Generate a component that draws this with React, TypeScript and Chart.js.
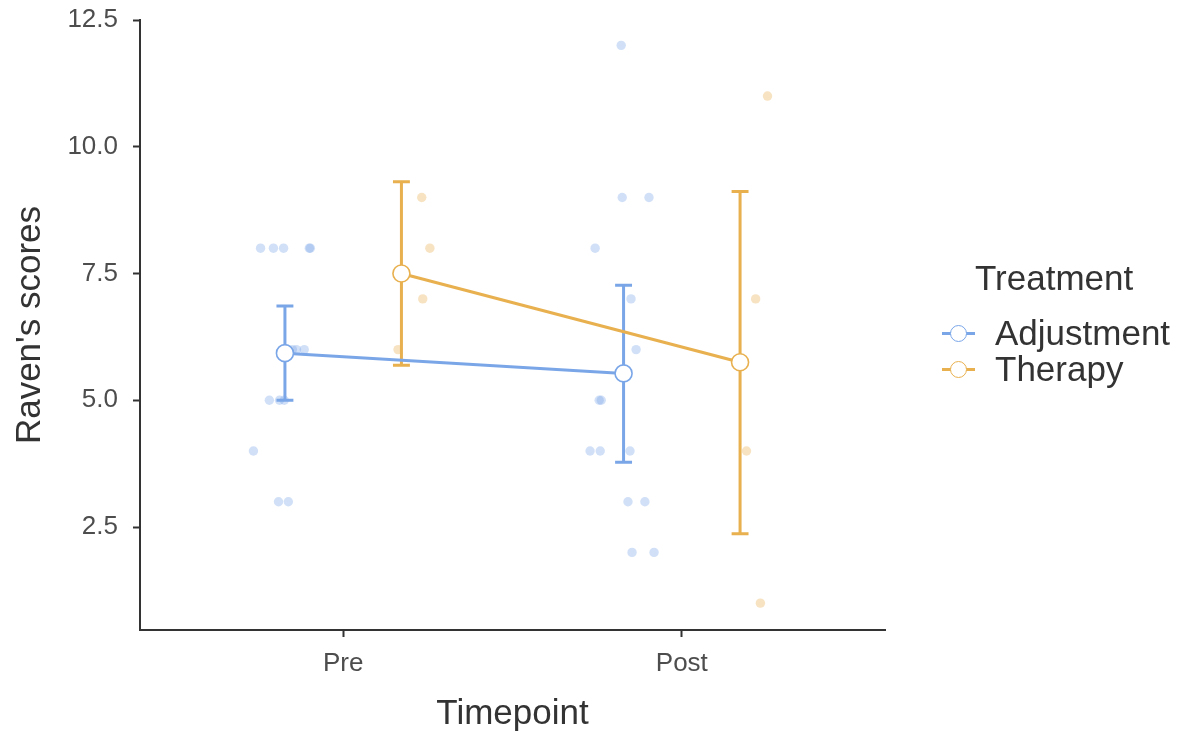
import React, { useEffect, useRef } from "react";
import { Chart, registerables } from "chart.js";

Chart.register(...registerables);

// ---- data ----
const categories = ["Pre", "Post"];
const groups = ["Adjustment", "Therapy"];
const yTicks = [2.5, 5, 7.5, 10, 12.5];
const yTickLabels = ["2.5", "5.0", "7.5", "10.0", "12.5"];

// group means and error-bar limits per timepoint
const adjMean = [5.93, 5.53];
const adjLow = [5.0, 3.78];
const adjHigh = [6.86, 7.27];
const therMean = [7.5, 5.75];
const therLow = [5.69, 2.37];
const therHigh = [9.31, 9.12];

// raw (jittered) observations: x position on the timepoint axis, y score
const adjX = [
  0.756, 0.794, 0.824, 0.9, 0.903, 0.85, 0.862, 0.885, 0.782, 0.812, 0.826, 0.735, 0.809, 0.838,
  1.821, 1.824, 1.903, 1.744, 1.85, 1.865, 1.756, 1.762, 1.729, 1.759, 1.847, 1.841, 1.891, 1.853, 1.918,
];
const adjY = [
  8, 8, 8, 8, 8, 6, 6, 6, 5, 5, 5, 4, 3, 3,
  12, 9, 9, 8, 7, 6, 5, 5, 4, 4, 4, 3, 3, 2, 2,
];
const therX = [1.232, 1.256, 1.235, 1.162, 2.253, 2.218, 2.191, 2.232];
const therY = [9, 8, 7, 6, 11, 7, 4, 1];

const DODGE = 0.172;
const CAP = 0.025;

const BLUE = "#7AA6E8";
const ORANGE = "#E8B04F";
const BLUE_PT = "rgba(122,166,232,0.35)";
const ORANGE_PT = "rgba(232,176,79,0.35)";
const FONT = "'Liberation Sans', Arial, Helvetica, sans-serif";

const adjMeanX = categories.map((_, i) => i + 1 - DODGE);
const therMeanX = categories.map((_, i) => i + 1 + DODGE);

const errorBarPlugin = {
  id: "errorBars",
  beforeDatasetDraw(chart: any, args: any) {
    if (args.index !== 1) return;
    const ctx = chart.ctx;
    const xs = chart.scales.x;
    const ys = chart.scales.y;
    const sets = [
      { x: adjMeanX, lo: adjLow, hi: adjHigh, c: BLUE },
      { x: therMeanX, lo: therLow, hi: therHigh, c: ORANGE },
    ];
    ctx.save();
    ctx.lineWidth = 3;
    ctx.lineCap = "butt";
    for (const s of sets) {
      ctx.strokeStyle = s.c;
      s.x.forEach((xv, i) => {
        const px = xs.getPixelForValue(xv);
        const pl = xs.getPixelForValue(xv - CAP);
        const pr = xs.getPixelForValue(xv + CAP);
        const top = ys.getPixelForValue(s.hi[i]);
        const bot = ys.getPixelForValue(s.lo[i]);
        ctx.beginPath();
        ctx.moveTo(px, top);
        ctx.lineTo(px, bot);
        ctx.moveTo(pl, top);
        ctx.lineTo(pr, top);
        ctx.moveTo(pl, bot);
        ctx.lineTo(pr, bot);
        ctx.stroke();
      });
    }
    ctx.restore();
  },
};

function LegendKey({ color }: { color: string }) {
  return (
    <div style={{ position: "relative", width: 33, height: 34 }}>
      <div
        style={{
          position: "absolute",
          left: 0,
          top: 15.5,
          width: 33,
          height: 3,
          background: color,
        }}
      />
      <div
        style={{
          position: "absolute",
          left: 8,
          top: 8.5,
          width: 17,
          height: 17,
          boxSizing: "border-box",
          borderRadius: "50%",
          border: `1.8px solid ${color}`,
          background: "#fff",
        }}
      />
    </div>
  );
}

export default function App() {
  const ref = useRef<HTMLCanvasElement | null>(null);

  useEffect(() => {
    if (!ref.current) return;
    const chart = new Chart(ref.current, {
      type: "scatter",
      data: {
        datasets: [
          {
            type: "line",
            label: groups[0],
            data: adjMeanX.map((x, i) => ({ x, y: adjMean[i] })),
            borderColor: BLUE,
            borderWidth: 3,
            pointRadius: 8.5,
            pointBackgroundColor: "#ffffff",
            pointBorderColor: BLUE,
            pointBorderWidth: 1.6,
            showLine: true,
            order: 0,
          } as any,
          {
            type: "line",
            label: groups[1],
            data: therMeanX.map((x, i) => ({ x, y: therMean[i] })),
            borderColor: ORANGE,
            borderWidth: 3,
            pointRadius: 8.5,
            pointBackgroundColor: "#ffffff",
            pointBorderColor: ORANGE,
            pointBorderWidth: 1.6,
            showLine: true,
            order: 1,
          } as any,
          {
            label: groups[0] + " obs",
            data: adjX.map((x, i) => ({ x, y: adjY[i] })),
            backgroundColor: BLUE_PT,
            borderWidth: 0,
            pointRadius: 4.7,
            order: 2,
          },
          {
            label: groups[1] + " obs",
            data: therX.map((x, i) => ({ x, y: therY[i] })),
            backgroundColor: ORANGE_PT,
            borderWidth: 0,
            pointRadius: 4.7,
            order: 3,
          },
        ],
      },
      options: {
        animation: false,
        responsive: false,
        devicePixelRatio: 1,
        layout: { padding: { left: 0, right: 296, top: 20, bottom: 0 } },
        plugins: {
          legend: { display: false },
          tooltip: { enabled: false },
        },
        scales: {
          x: {
            type: "linear",
            min: 0.4,
            max: 2.6,
            afterBuildTicks: (axis: any) => {
              axis.ticks = categories.map((_, i) => ({ value: i + 1 }));
            },
            afterFit: (axis: any) => {
              axis.height = 108;
              axis.paddingLeft = 0;
              axis.paddingRight = 0;
            },
            ticks: {
              callback: (v: any) => categories[Math.round(Number(v)) - 1] ?? "",
              color: "#4D4D4D",
              font: { family: FONT, size: 26 },
              padding: 11,
              maxRotation: 0,
              autoSkip: false,
            },
            grid: {
              display: true,
              drawOnChartArea: false,
              drawTicks: true,
              tickLength: 7,
              tickWidth: 2,
              color: "#333333",
            },
            border: { display: true, color: "#333333", width: 2 },
            title: {
              display: true,
              text: "Timepoint",
              color: "#333333",
              font: { family: FONT, size: 35 },
              padding: { top: 0, bottom: 3 },
            },
          },
          y: {
            type: "linear",
            min: 0.47,
            max: 12.5,
            afterBuildTicks: (axis: any) => {
              axis.ticks = yTicks.map((v) => ({ value: v }));
            },
            afterFit: (axis: any) => {
              axis.width = 140;
              axis.paddingTop = 0;
              axis.paddingBottom = 0;
            },
            ticks: {
              callback: (v: any) => {
                const i = yTicks.indexOf(Number(v));
                return i >= 0 ? yTickLabels[i] : "";
              },
              color: "#4D4D4D",
              font: { family: FONT, size: 26 },
              padding: 15,
              autoSkip: false,
            },
            grid: {
              display: true,
              drawOnChartArea: false,
              drawTicks: true,
              tickLength: 7,
              tickWidth: 2,
              color: "#333333",
            },
            border: { display: true, color: "#333333", width: 2 },
            title: {
              display: true,
              text: "Raven's scores",
              color: "#333333",
              font: { family: FONT, size: 35 },
              padding: { top: 9, bottom: 0 },
            },
          },
        },
      },
      plugins: [errorBarPlugin],
    });
    return () => chart.destroy();
  }, []);

  const textStyle: React.CSSProperties = {
    fontFamily: FONT,
    fontSize: 35,
    lineHeight: "34px",
    color: "#333333",
    whiteSpace: "nowrap",
  };

  return (
    <div
      style={{
        position: "fixed",
        left: 0,
        top: 0,
        width: 1181,
        height: 738,
        background: "#ffffff",
      }}
    >
      <canvas ref={ref} width={1181} height={738} style={{ display: "block" }} />
      <div style={{ ...textStyle, position: "absolute", left: 975, top: 261 }}>Treatment</div>
      {groups.map((g, i) => (
        <div
          key={g}
          style={{
            position: "absolute",
            left: 942,
            top: 316 + i * 36,
            display: "flex",
            alignItems: "center",
            height: 34,
          }}
        >
          <LegendKey color={i === 0 ? BLUE : ORANGE} />
          <div style={{ ...textStyle, marginLeft: 20 }}>{g}</div>
        </div>
      ))}
    </div>
  );
}
